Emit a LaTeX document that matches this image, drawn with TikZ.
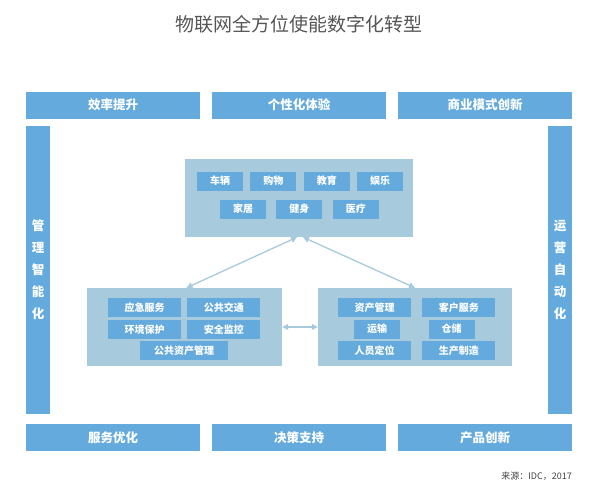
\documentclass[tikz,border=0pt]{standalone}
\usepackage{fontspec}
\setmainfont{Noto Sans CJK SC}
\usepackage{xcolor}
\usepackage{tikz}
\usetikzlibrary{positioning, arrows.meta}
\definecolor{barblue}{RGB}{100,170,220}
\definecolor{panelblue}{RGB}{168,202,221}
\definecolor{titlegray}{RGB}{85,85,85}

\begin{document}
\begin{tikzpicture}[
      x=1pt, y=-1pt,
      node distance = 3pt and 6pt,
      every node/.style = {inner sep=0pt},
      bar/.style = {fill=barblue, text=white, minimum height=27pt, minimum width=174pt,
                    font=\bfseries\fontsize{12.5}{14}\selectfont},
      sidebar/.style = {fill=barblue, text=white, minimum width=24pt, minimum height=288pt,
                        align=center, font=\bfseries\fontsize{12.5}{22}\selectfont},
      panel/.style = {fill=panelblue, minimum height=78pt},
      tag/.style = {fill=barblue, text=white, minimum width=46pt, minimum height=19pt,
                    font=\bfseries\fontsize{10}{12}\selectfont},
      wide/.style = {minimum width=73pt},
      link/.style = {{Triangle[length=6pt,width=6pt]}-{Triangle[length=6pt,width=6pt]},
                     draw=panelblue, line width=1.3pt}
    ]
    \useasboundingbox (0,0) rectangle (596,482);
    \node[font=\fontsize{19}{22}\selectfont, text=titlegray] (title) at (299,24) {物联网全方位使能数字化转型};

    \node[bar] (effic)  at (113,105) {效率提升};
    \node[bar] (person) at (299,105) {个性化体验};
    \node[bar] (bizmod) at (485,105) {商业模式创新};
    \node[bar] (servop) at (113,437.5) {服务优化};
    \node[bar] (decide) at (299,437.5) {决策支持};
    \node[bar] (prodin) at (485,437.5) {产品创新};
    \node[sidebar] (mgmt) at (38,270) {管\\理\\智\\能\\化};
    \node[sidebar] (oper) at (560,270) {运\\营\\自\\动\\化};

    \node[panel, minimum width=228pt] (hub)    at (299,198) {};
    \node[panel, minimum width=195pt] (leftp)  at (184.5,327) {};
    \node[panel, minimum width=194pt] (rightp) at (415,327) {};

    \node[tag] (car)  at (220,181) {车辆};
    \node[tag, right=7pt of car]  (shop) {购物};
    \node[tag, right=7pt of shop] (edu)  {教育};
    \node[tag, right=7pt of edu]  (fun)  {娱乐};
    \node[tag] (home) at (243,209) {家居};
    \node[tag, right=10pt of home]   (fit)  {健身};
    \node[tag, right=10pt of fit]    (med)  {医疗};

    \node[tag, wide] (emerg) at (144.5,307.5) {应急服务};
    \node[tag, wide, right=of emerg]   (transit) {公共交通};
    \node[tag, wide, below=of emerg]   (envir)   {环境保护};
    \node[tag, wide, below=of transit] (secur)   {安全监控};
    \node[tag, minimum width=88pt] (pubasset) at (184,350.5) {公共资产管理};

    \node[tag, wide] (asset) at (374.5,307.5) {资产管理};
    \node[tag, wide, right=11pt of asset] (client) {客户服务};
    \node[tag] (ship)  at (377,329) {运输};
    \node[tag] (store) at (451.5,329) {仓储};
    \node[tag, wide] (staff) at (374.5,350.5) {人员定位};
    \node[tag, wide, right=11pt of staff] (make) {生产制造};

    \draw[link] ([xshift=-2pt]hub.south) -- ([xshift=2pt]leftp.north);
    \draw[link] ([xshift=4pt]hub.south)  -- (rightp.north);
    \draw[link] (leftp.east) -- (rightp.west);

    \node[font=\fontsize{9}{11}\selectfont, text=black!75, anchor=east] (source) at (572,476) {来源：IDC，2017};
  \end{tikzpicture}
\end{document}
